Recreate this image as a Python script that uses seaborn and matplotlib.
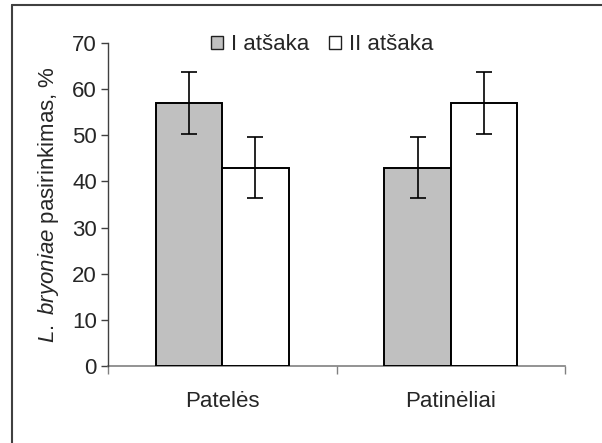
import matplotlib
matplotlib.use("Agg")
import matplotlib.pyplot as plt
import seaborn as sns
import pandas as pd
from matplotlib.lines import Line2D
from matplotlib.ticker import FixedLocator

categories = ["Patelės", "Patinėliai"]
series_names = ["I atšaka", "II atšaka"]
series_I = [57, 43]
series_II = [43, 57]
err_I = [6.7, 6.6]
err_II = [6.6, 6.7]
yticks = [0, 10, 20, 30, 40, 50, 60, 70]

sns.set_theme(style="white")
plt.rcParams["font.family"] = ["Liberation Sans", "DejaVu Sans"]
plt.rcParams["mathtext.fontset"] = "custom"
plt.rcParams["mathtext.it"] = "Liberation Sans:italic"
plt.rcParams["mathtext.rm"] = "Liberation Sans"

FS = 16

df = pd.DataFrame({
    "cat": categories * 2,
    "series": [series_names[0]] * 2 + [series_names[1]] * 2,
    "val": series_I + series_II,
})

W, H = 602, 443
fig = plt.figure(figsize=(W / 100, H / 100), dpi=100)
ax = fig.add_axes([108 / W, 1 - 366 / H, (565 - 108) / W, (366 - 43) / H])

sns.barplot(data=df, x="cat", y="val", hue="series", order=categories,
            hue_order=series_names, palette=["#c0c0c0", "#ffffff"],
            width=0.58, edgecolor="black", linewidth=1.4, errorbar=None,
            legend=True, ax=ax, zorder=2)

errs = [err_I, err_II]
vals = [series_I, series_II]
for cont, e, v in zip(ax.containers, errs, vals):
    xs = [b.get_x() + b.get_width() / 2 for b in cont]
    ax.errorbar(xs, v, yerr=e, fmt="none", ecolor="black", elinewidth=1.2,
                capsize=5.5, capthick=1.2, zorder=3)

ax.set_xlim(-0.5, 1.5)
ax.set_ylim(0, 70)
ax.set_yticks(yticks)
ax.set_yticklabels([str(t) for t in yticks], fontsize=FS)
ax.tick_params(axis="y", which="major", direction="out", length=5, width=1,
               color="#404040", left=True, pad=3)

# category boundary ticks (major) and label positions (minor)
ax.xaxis.set_major_locator(FixedLocator([-0.5, 0.5, 1.5]))
ax.xaxis.set_minor_locator(FixedLocator([0, 1]))
ax.set_xticklabels(["", "", ""])
ax.set_xticklabels(categories, minor=True, fontsize=FS)
ax.tick_params(axis="x", which="major", direction="out", length=6, width=1,
               color="#808080", bottom=True)
ax.tick_params(axis="x", which="minor", length=0, pad=18)

ax.set_xlabel("")
ax.set_ylabel(r"$\it{L.\ bryoniae}$ pasirinkimas, %", fontsize=FS, labelpad=8)

for s in ["top", "right"]:
    ax.spines[s].set_visible(False)
ax.spines["left"].set_color("#404040")
ax.spines["left"].set_linewidth(1)
ax.spines["bottom"].set_color("#808080")
ax.spines["bottom"].set_linewidth(1.2)
ax.spines["bottom"].set_zorder(1)

handles, labels = ax.get_legend_handles_labels()
for h in handles:
    h.set_linewidth(1.0)
    h.set_edgecolor("#202020")
ax.legend(handles, labels, loc="center", bbox_to_anchor=(0.468, 0.994),
          ncol=2, frameon=False, fontsize=FS, handlelength=0.55,
          handleheight=0.55, handletextpad=0.35, columnspacing=0.9,
          borderaxespad=0)

# outer border (only left and top visible in reference)
fig.add_artist(Line2D([11.5 / W, 11.5 / W], [0, 1 - 5 / H],
                      transform=fig.transFigure, color="#404040", lw=1.5))
fig.add_artist(Line2D([11.5 / W, 1], [1 - 5 / H, 1 - 5 / H],
                      transform=fig.transFigure, color="#404040", lw=1.5))

fig.savefig("out.png", dpi=100, facecolor="white")
